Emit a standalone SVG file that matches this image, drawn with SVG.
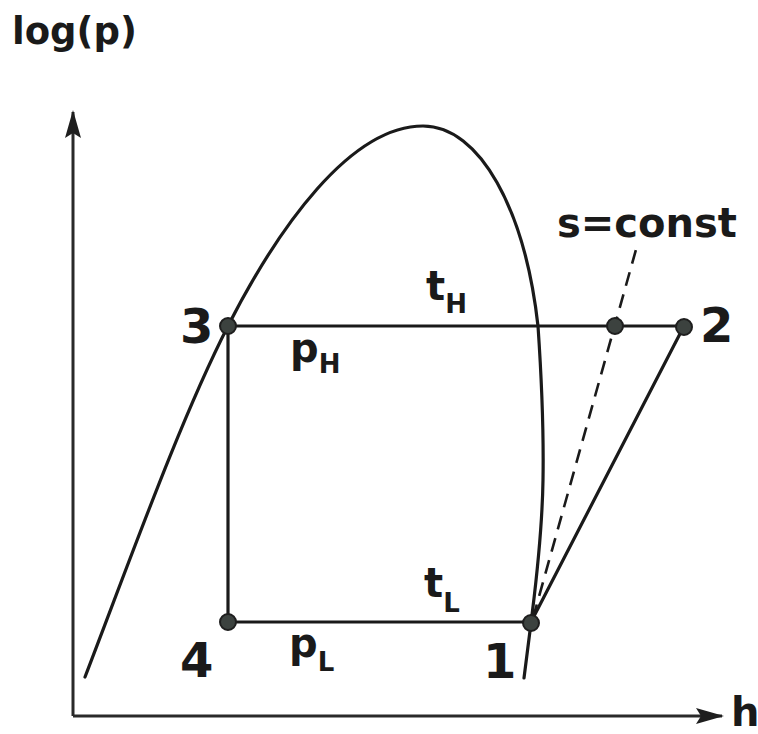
<svg xmlns="http://www.w3.org/2000/svg" width="758" height="734" viewBox="0 0 758 734">
<style>
  .ln { fill: none; stroke: #1a1a1a; stroke-width: 3.2; stroke-linecap: round; stroke-linejoin: round; }
  .ax { fill: none; stroke: #2a2a2a; stroke-width: 3; }
  .dash { fill: none; stroke: #1a1a1a; stroke-width: 2.6; stroke-dasharray: 14 9; }
  .pt { fill: #3c423f; stroke: #1e1e1e; stroke-width: 2; }
  .t { font-family: "DejaVu Sans", Verdana, sans-serif; font-weight: bold; fill: #1a1a1a; }
  .num { font-size: 48px; }
  .lab { font-size: 40px; }
  .sub { font-size: 26px; }
</style>
<defs>
  <marker id="arr" viewBox="0 0 32 20" refX="30" refY="10" markerWidth="32" markerHeight="20" markerUnits="userSpaceOnUse" orient="auto">
    <path d="M32,10 L4,2 L9,10 L4,18 Z" fill="#1e1e1e"/>
  </marker>
</defs>

<text class="t" x="12" y="44" font-size="37">log(p)</text>

<g id="axes">
  <line class="ax" x1="73" y1="716" x2="73" y2="112" marker-end="url(#arr)"/>
  <line class="ax" x1="73" y1="716" x2="722" y2="716" marker-end="url(#arr)"/>
  <text class="t" x="731" y="726" font-size="40">h</text>
</g>

<g id="dome">
  <path class="ln" d="M85,677 C130,560 180,420 228,326 C278,228 350,126 423,126 C480,126 525,210 538,326 C541,370 544,420 543,480 C542,540 535,590 531,623 L524,678"/>
</g>

<g id="connectors">
  <line class="ln" x1="228" y1="326" x2="684" y2="326"/>
  <line class="ln" x1="228" y1="326" x2="228" y2="622"/>
  <line class="ln" x1="228" y1="622" x2="531" y2="622"/>
  <line class="ln" x1="531" y1="622" x2="684" y2="326"/>
  <line class="dash" x1="533" y1="618" x2="637" y2="246"/>
</g>

<g id="node-3">
  <circle class="pt" cx="228" cy="326" r="8"/>
  <text class="t num" x="180" y="343">3</text>
</g>
<g id="node-2">
  <circle class="pt" cx="684" cy="327" r="8"/>
  <text class="t num" x="700" y="342">2</text>
</g>
<g id="node-s">
  <circle class="pt" cx="615" cy="326" r="8"/>
</g>
<g id="node-4">
  <circle class="pt" cx="228" cy="622" r="8"/>
  <text class="t num" x="180" y="677">4</text>
</g>
<g id="node-1">
  <circle class="pt" cx="531" cy="623" r="8"/>
  <text class="t num" x="483" y="678">1</text>
</g>

<g id="labels">
  <text class="t lab" x="426" y="300">t<tspan class="sub" dy="13">H</tspan></text>
  <text class="t lab" x="290" y="362">p<tspan class="sub" dy="11">H</tspan></text>
  <text class="t lab" x="424" y="597">t<tspan class="sub" dy="15">L</tspan></text>
  <text class="t lab" x="289" y="657">p<tspan class="sub" dy="14">L</tspan></text>
  <text class="t" x="557" y="237" font-size="40">s=const</text>
</g>
</svg>
